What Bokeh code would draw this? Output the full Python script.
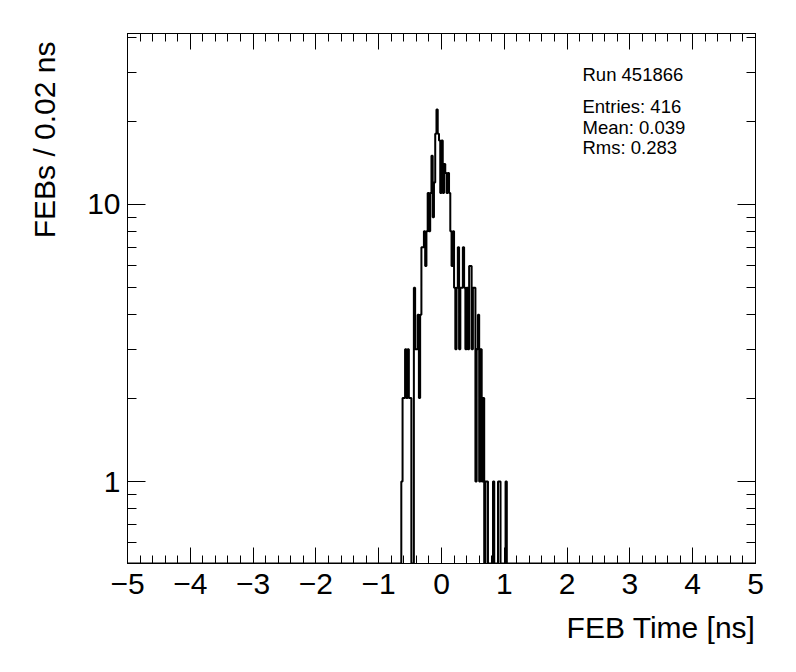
import math
import numpy as np
from bokeh.plotting import figure
from bokeh.models import (Range1d, LinearAxis, LogAxis, FixedTicker, Label,
                          BasicTickFormatter, Title)
from bokeh.embed import file_html
from bokeh.resources import INLINE

# ---------------- data ----------------
x_lo, x_hi = -5.0, 5.0
y_lo, y_hi = 0.506, 41.4
bin_width = 0.02
first_bin_low = -0.64
counts = [1, 2, 2, 3, 2, 3, 2, 2, 0, 0,
          5, 3, 3, 4, 2, 4, 7, 7, 8, 6,
          8, 11, 8, 11, 15, 9, 12, 18, 22, 18,
          17, 11, 17, 11, 14, 13, 11, 13, 11, 8,
          6, 8, 5, 3, 5, 7, 3, 5, 5, 7,
          5, 3, 5, 3, 6, 6, 3, 5, 5, 1,
          3, 4, 1, 3, 1, 2, 0, 1, 1, 0,
          0, 0, 0, 1, 0, 0, 0, 1, 1, 0,
          0, 0, 0, 1]
x_ticks = [-5, -4, -3, -2, -1, 0, 1, 2, 3, 4, 5]
x_tick_labels = ["\u22125", "\u22124", "\u22123", "\u22122", "\u22121", "0", "1", "2", "3", "4", "5"]
y_ticks = [1, 10]
y_tick_labels = ["1", "10"]
run_text = "Run 451866"
stats_lines = ["Entries: 416", "Mean: 0.039", "Rms: 0.283"]
x_title = "FEB Time [ns]"
y_title = "FEBs / 0.02 ns"

FONT = "Liberation Sans"

# ---------------- figure ----------------
p = figure(width=780, height=656, x_range=Range1d(x_lo, x_hi),
           y_range=Range1d(y_lo, y_hi), y_axis_type="log",
           output_backend="svg", toolbar_location=None,
           min_border_left=127, min_border_right=25,
           min_border_top=33, min_border_bottom=93)
p.background_fill_color = "white"
p.border_fill_color = "white"
p.outline_line_color = "black"
p.outline_line_width = 1
p.xgrid.visible = False
p.ygrid.visible = False

# step outline of histogram
c = np.array(counts, dtype=float)
c[c <= 0] = y_lo
edges = first_bin_low + bin_width * np.arange(len(counts) + 1)
xs = np.concatenate([[x_lo], np.repeat(edges, 2), [x_hi]])
ys = np.concatenate([[y_lo, y_lo], np.repeat(c, 2), [y_lo, y_lo]])
p.line(xs, ys, line_color="black", line_width=2)

x_minor = [round(x_lo + 0.2 * i, 2) for i in range(51)]
y_minor = [m * 10.0 ** e for e in (-1, 0, 1) for m in range(2, 10)]


def style(ax, labels, major, minor, show):
    ax.major_tick_in = major
    ax.major_tick_out = 0
    ax.minor_tick_in = minor
    ax.minor_tick_out = 0
    ax.axis_line_color = "black"
    ax.major_tick_line_color = "black"
    ax.minor_tick_line_color = "black"
    ax.major_label_text_font = FONT
    ax.major_label_text_color = "black"
    if show:
        ax.major_label_text_font_size = "30px"
        ax.major_label_overrides = labels
    else:
        ax.major_label_text_font_size = "0px"
        ax.major_label_text_alpha = 0


xb = p.xaxis[0]
xb.ticker = FixedTicker(ticks=x_ticks, minor_ticks=x_minor)
xb.formatter = BasicTickFormatter()
style(xb, {t: l for t, l in zip(x_ticks, x_tick_labels)}, 16, 8, True)
xb.major_label_standoff = 10

yl = p.yaxis[0]
yl.ticker = FixedTicker(ticks=y_ticks, minor_ticks=y_minor)
yl.formatter = BasicTickFormatter()
style(yl, {t: l for t, l in zip(y_ticks, y_tick_labels)}, 18, 9, True)
yl.major_label_standoff = 7

xa = LinearAxis(ticker=FixedTicker(ticks=x_ticks, minor_ticks=x_minor))
style(xa, {}, 16, 8, False)
p.add_layout(xa, "above")
yr = LogAxis(ticker=FixedTicker(ticks=y_ticks, minor_ticks=y_minor))
style(yr, {}, 18, 9, False)
p.add_layout(yr, "right")

# axis titles
p.add_layout(Title(text=x_title, align="right", text_font=FONT,
                   text_font_size="30px", text_font_style="normal",
                   text_color="black", standoff=24), "below")
p.add_layout(Title(text=y_title, align="right", text_font=FONT,
                   text_font_size="30px", text_font_style="normal",
                   text_color="black", standoff=48, offset=8), "left")

# stats text
stat_x = 2.245
p.add_layout(Label(x=stat_x, y=y_hi, text=run_text, text_font=FONT,
                   text_font_size="18.5px", text_baseline="alphabetic",
                   y_offset=-(74 - 33), text_color="black"))
for i, s in enumerate(stats_lines):
    p.add_layout(Label(x=stat_x, y=y_hi, text=s, text_font=FONT,
                       text_font_size="18.5px", text_baseline="alphabetic",
                       y_offset=-(106 - 33 + 20.5 * i), text_color="black"))

open("out.html", "w").write(file_html(p, INLINE))
